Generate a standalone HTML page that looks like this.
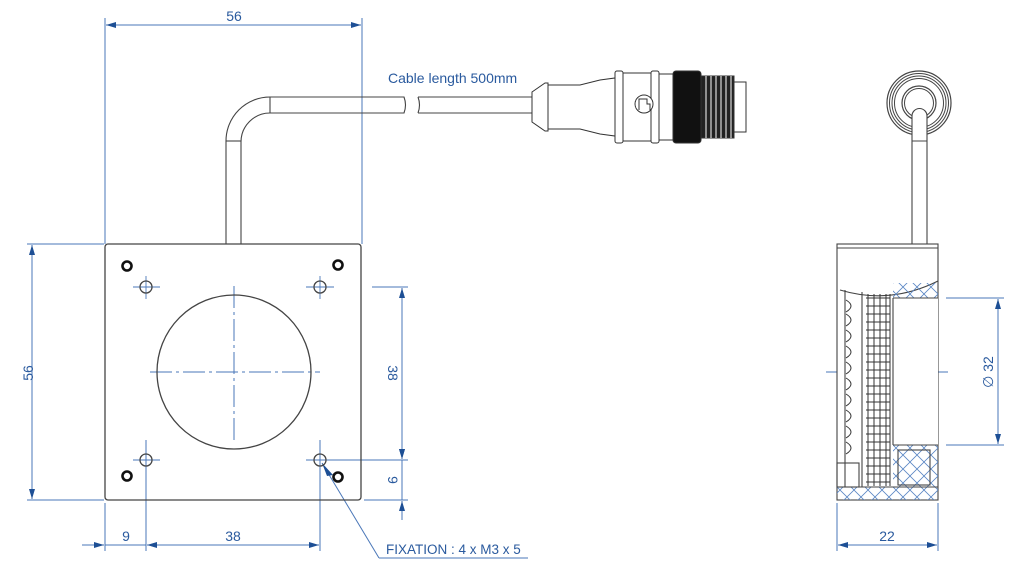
<!DOCTYPE html>
<html><head><meta charset="utf-8"><style>
html,body{margin:0;padding:0;background:#fff;width:1024px;height:575px;overflow:hidden}
svg{display:block}
text{font-family:"Liberation Sans",sans-serif;fill:#2a5a9e}
</style></head><body>
<svg width="1024" height="575" viewBox="0 0 1024 575" xmlns="http://www.w3.org/2000/svg">
<defs>
<marker id="a" viewBox="0 0 10 6" refX="10" refY="3" markerWidth="10" markerHeight="6" orient="auto-start-reverse" markerUnits="userSpaceOnUse"><path d="M0,0 L10,3 L0,6 z" fill="#1d4f95"/></marker>
<pattern id="h" width="14" height="14" patternUnits="userSpaceOnUse"><path d="M0,14 L14,0 M0,0 L14,14" stroke="#5a86c4" stroke-width="0.8"/></pattern>
</defs>
<g stroke="#4a77b8" stroke-width="1" fill="none">
<!-- top 56 -->
<line x1="105" y1="18" x2="105" y2="244"/><line x1="362" y1="18" x2="362" y2="244"/>
<line x1="106" y1="25" x2="361" y2="25" marker-start="url(#a)" marker-end="url(#a)"/>
<!-- left 56 -->
<line x1="27" y1="244" x2="104" y2="244"/><line x1="27" y1="500" x2="104" y2="500"/>
<line x1="32" y1="245" x2="32" y2="499" marker-start="url(#a)" marker-end="url(#a)"/>
<!-- right 38 / 9 -->
<line x1="372" y1="287" x2="408" y2="287"/><line x1="330" y1="460" x2="408" y2="460"/><line x1="364" y1="500" x2="408" y2="500"/>
<line x1="402" y1="288" x2="402" y2="459" marker-start="url(#a)" marker-end="url(#a)"/>
<line x1="402" y1="440" x2="402" y2="459" marker-end="url(#a)"/>
<line x1="402" y1="520" x2="402" y2="501" marker-end="url(#a)"/>
<line x1="402" y1="460" x2="402" y2="500"/>
<!-- bottom 9 38 -->
<line x1="105" y1="503" x2="105" y2="551"/><line x1="146" y1="440" x2="146" y2="551"/><line x1="320" y1="440" x2="320" y2="551"/>
<line x1="82" y1="545" x2="104" y2="545" marker-end="url(#a)"/>
<line x1="105" y1="545" x2="146" y2="545"/>
<line x1="147" y1="545" x2="319" y2="545" marker-start="url(#a)" marker-end="url(#a)"/>
<!-- centre lines -->
<line x1="234" y1="286" x2="234" y2="440" stroke-dasharray="22,4,3,4"/>
<line x1="150" y1="372" x2="320" y2="372" stroke-dasharray="22,4,3,4"/>
<g stroke-width="0.9">
<line x1="146" y1="276" x2="146" y2="299"/><line x1="133" y1="287" x2="160" y2="287"/>
<line x1="320" y1="276" x2="320" y2="299"/><line x1="306" y1="287" x2="334" y2="287"/>
<line x1="146" y1="440" x2="146" y2="472"/><line x1="133" y1="460" x2="160" y2="460"/>
<line x1="306" y1="460" x2="334" y2="460"/>
</g>
<!-- leader -->
<line x1="322" y1="463" x2="379" y2="558"/><line x1="379" y1="558" x2="528" y2="558"/>
<!-- side dims -->
<line x1="946" y1="298" x2="1004" y2="298"/><line x1="946" y1="445" x2="1004" y2="445"/>
<line x1="998" y1="299" x2="998" y2="444" marker-start="url(#a)" marker-end="url(#a)"/>
<line x1="826" y1="372" x2="948" y2="372"/>
<line x1="837" y1="503" x2="837" y2="551"/><line x1="938" y1="503" x2="938" y2="551"/>
<line x1="838" y1="545" x2="937" y2="545" marker-start="url(#a)" marker-end="url(#a)"/>
</g>
<path d="M333,475 L322,463 L327,476 z" fill="#1d4f95"/>
<!-- plate -->
<g stroke="#444" stroke-width="1.3" fill="none">
<rect x="105" y="244" width="256" height="256" rx="3"/>
<circle cx="234" cy="372" r="77"/>
<circle cx="146" cy="287" r="6"/><circle cx="320" cy="287" r="6"/><circle cx="146" cy="460" r="6"/><circle cx="320" cy="460" r="6"/>
</g>
<g stroke="#111" stroke-width="2.6" fill="none">
<circle cx="127" cy="266" r="4.5"/><circle cx="338" cy="265" r="4.5"/><circle cx="127" cy="476" r="4.5"/><circle cx="338" cy="477" r="4.5"/>
</g>
<!-- cable -->
<g stroke="#444" stroke-width="1.1" fill="none">
<path d="M226,244 L226,141 A44,44 0 0 1 270,97 L404,97 Q407,105 404,113 L270,113 A29,29 0 0 0 241,142 L241,244"/>
<line x1="226" y1="141" x2="241" y2="141"/><line x1="270" y1="97" x2="270" y2="113"/>
<path d="M418,97 Q421,105 418,113 M418,97 L532,97 M418,113 L532,113"/>
</g>
<!-- connector -->
<g stroke="#333" stroke-width="1" fill="#fff">
<path d="M532,92 L545,83 L548,83 L548,131 L545,131 L532,122 z"/>
<path d="M548,85 L580,85 L600,80 L615,78 L615,136 L600,134 L580,129 L548,129 z"/>
<rect x="615" y="71" width="8" height="72" rx="2"/>
<rect x="623" y="73" width="28" height="68"/>
<rect x="651" y="71" width="8" height="72" rx="2"/>
<rect x="659" y="74" width="14" height="66"/>
<rect x="673" y="71" width="28" height="72" rx="3" fill="#111"/>
<rect x="701" y="76" width="33" height="62" fill="#222"/>
<rect x="734" y="82" width="12" height="50" fill="#fff"/>
<circle cx="644" cy="104" r="9"/>
<path d="M639,110 L639,99 L647,99 L647,104 L650,104 L650,110" fill="none"/>
</g>
<g stroke="#fff" stroke-width="1">
<line x1="706" y1="76" x2="706" y2="138"/><line x1="711" y1="76" x2="711" y2="138"/><line x1="716" y1="76" x2="716" y2="138"/><line x1="721" y1="76" x2="721" y2="138"/><line x1="726" y1="76" x2="726" y2="138"/><line x1="731" y1="76" x2="731" y2="138"/>
</g>
<!-- side view cable -->
<g stroke="#444" fill="none">
<circle cx="919" cy="103" r="32" stroke-width="1.2"/><circle cx="919" cy="103" r="29.5"/><circle cx="919" cy="103" r="27"/><circle cx="919" cy="103" r="24.5"/>
<circle cx="919" cy="103" r="17" stroke-width="1.2"/><circle cx="919" cy="103" r="14.5"/>
<path d="M912,244 L912,116 A7.5,7.5 0 0 1 927,116 L927,244" fill="#fff" stroke-width="1.1"/>
<line x1="912" y1="141" x2="927" y2="141"/>
</g>
<!-- side body -->
<g stroke="#444" stroke-width="1.1" fill="none">
<rect x="837" y="244" width="101" height="256" fill="#fff"/>
<line x1="837" y1="248" x2="938" y2="248"/>
<path d="M840,290 Q890,305 938,281" />
<rect x="893" y="298" width="45" height="147" fill="#fff" stroke="none"/>
<rect x="893" y="283" width="45" height="15" fill="url(#h)" stroke="none"/>
<rect x="893" y="445" width="45" height="42" fill="url(#h)" stroke="none"/>
<rect x="837" y="487" width="101" height="13" fill="url(#h)" stroke="none"/>
<line x1="893" y1="298" x2="938" y2="298"/><line x1="893" y1="445" x2="938" y2="445"/>
<line x1="893" y1="298" x2="893" y2="445"/>
<line x1="845" y1="290" x2="845" y2="487"/><line x1="862" y1="292" x2="862" y2="487"/>
<line x1="837" y1="487" x2="938" y2="487"/>
<rect x="898" y="450" width="32" height="35"/>
<rect x="837" y="463" width="22" height="24"/>
</g>
<g stroke="#333" stroke-width="1">
<path d="M866,298 H890 M866,306 H890 M866,314 H890 M866,322 H890 M866,330 H890 M866,338 H890 M866,346 H890 M866,354 H890 M866,362 H890 M866,370 H890 M866,378 H890 M866,386 H890 M866,394 H890 M866,402 H890 M866,410 H890 M866,418 H890 M866,426 H890 M866,434 H890 M866,442 H890 M866,450 H890 M866,458 H890 M866,466 H890 M866,474 H890 M866,482 H890"/>
<path d="M868,294 V486 M874,294 V486 M880,294 V486 M886,294 V486 M890,294 V486"/>
<path d="M846,300 Q856,306 846,312 M846,314 Q856,320 846,326 M846,330 Q856,336 846,342 M846,346 Q856,352 846,358 M846,362 Q856,368 846,374 M846,378 Q856,384 846,390 M846,394 Q856,400 846,406 M846,410 Q856,416 846,422 M846,426 Q856,432 846,438 M846,442 Q856,448 846,454" fill="none"/>
</g>
<!-- texts -->
<text x="234" y="21" font-size="14" text-anchor="middle">56</text>
<text x="28" y="373" font-size="14" text-anchor="middle" transform="rotate(-90 28 373)" dy="5">56</text>
<text x="393" y="373" font-size="14" text-anchor="middle" transform="rotate(90 393 373)" dy="5">38</text>
<text x="393" y="480" font-size="14" text-anchor="middle" transform="rotate(90 393 480)" dy="5">9</text>
<text x="126" y="541" font-size="14" text-anchor="middle">9</text>
<text x="233" y="541" font-size="14" text-anchor="middle">38</text>
<text x="386" y="554" font-size="13.5">FIXATION : 4 x M3 x 5</text>
<text x="388" y="83" font-size="14">Cable length 500mm</text>
<text x="887" y="541" font-size="14" text-anchor="middle">22</text>
<text x="988" y="372" font-size="14" text-anchor="middle" transform="rotate(-90 988 372)" dy="5">∅ 32</text>
</svg>
</body></html>
